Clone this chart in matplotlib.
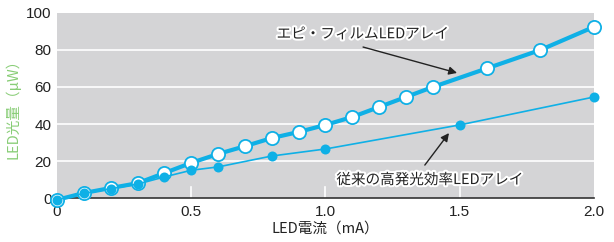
import matplotlib
matplotlib.use('Agg')
from matplotlib import pyplot as plt
import matplotlib.patheffects as pe

plt.rcParams['font.family'] = ['Noto Sans CJK JP', 'DejaVu Sans']

# エピ・フィルムLEDアレイ
epi_x = [0, 0.1, 0.2, 0.3, 0.4, 0.5, 0.6, 0.7, 0.8, 0.9, 1.0, 1.1, 1.2, 1.3, 1.4, 1.6, 1.8, 2.0]
epi_y = [-1, 2.7, 5.4, 8.0, 13.5, 19, 23.8, 28, 32.4, 35.7, 39.5, 43.8, 49.2, 54.6, 60, 70, 80, 92.5]

# 従来の高発光効率LEDアレイ
conv_x = [0, 0.1, 0.2, 0.3, 0.4, 0.5, 0.6, 0.8, 1.0, 1.5, 2.0]
conv_y = [-1, 2.5, 5.0, 7.5, 11.4, 15, 16.8, 22.7, 26.5, 39.5, 54.6]

x_ticks = [0, 0.5, 1.0, 1.5, 2.0]
x_labels = ['0', '0.5', '1.0', '1.5', '2.0']
y_ticks = [0, 20, 40, 60, 80, 100]

BLUE = '#0fb0e6'
GRAY_BG = '#d4d4d6'
INK = '#222222'

fig = plt.figure(figsize=(6.14, 2.42), dpi=100)
ax = fig.add_axes([0.0928, 0.1818, 0.8746, 0.7645])
ax.set_facecolor(GRAY_BG)
ax.set_xlim(0, 2.0)
ax.set_ylim(0, 100)

for y in y_ticks[1:-1]:
    ax.axhline(y, color='white', lw=1.2, zorder=1)
for x in x_ticks[1:-1]:
    ax.plot([x, x], [0, 6], color='white', lw=1.2, zorder=1)

ax.plot(epi_x, epi_y, color=BLUE, lw=3, marker='o', ms=9.5,
        mfc='white', mec=BLUE, mew=1.3, zorder=3, clip_on=False)
ax.plot(conv_x, conv_y, color=BLUE, lw=1.2, marker='o', ms=7.2,
        mfc=BLUE, mec='none', zorder=4, clip_on=False)

for s in ['top', 'right', 'left']:
    ax.spines[s].set_visible(False)
ax.spines['bottom'].set_color('#333333')
ax.spines['bottom'].set_linewidth(1.2)

ax.set_xticks(x_ticks)
ax.set_xticklabels(x_labels)
ax.set_yticks(y_ticks)
ax.tick_params(axis='both', length=0, labelsize=11, colors=INK)
ax.tick_params(axis='x', pad=5)
ax.tick_params(axis='y', pad=4)
for lab in ax.get_xticklabels() + ax.get_yticklabels():
    lab.set_family(['Liberation Sans', 'DejaVu Sans'])

ax.set_xlabel('LED電流（mA）', fontsize=10.5, color=INK, labelpad=2)
ax.set_ylabel('LED光量（μW）', fontsize=10.5, color='#88cd76', labelpad=4)

halo = [pe.withStroke(linewidth=3, foreground='white')]
arrow = dict(arrowstyle='-|>', color=INK, lw=1, mutation_scale=12,
             shrinkA=0, shrinkB=0)

ax.text(1.14, 88.5, 'エピ・フィルムLEDアレイ', fontsize=10.5, color=INK,
        ha='center', va='center', path_effects=halo, zorder=5)
ax.annotate('', xy=(1.49, 67.6), xytext=(1.14, 81.6), arrowprops=arrow, zorder=5)

ax.text(1.39, 9.7, '従来の高発光効率LEDアレイ', fontsize=10.5, color=INK,
        ha='center', va='center', path_effects=halo, zorder=5)
ax.annotate('', xy=(1.46, 35.1), xytext=(1.37, 17.8), arrowprops=arrow, zorder=5)

fig.savefig('out.png', dpi=100)
